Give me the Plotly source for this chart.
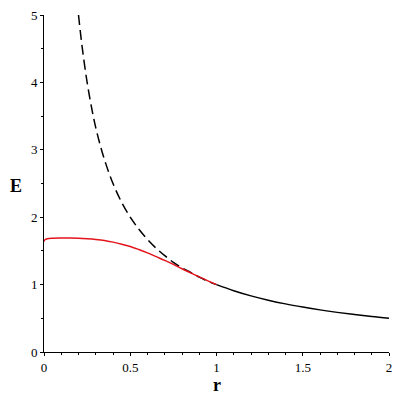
import plotly.graph_objects as go

# Red curve (inside)
r_red = [0.0, 0.005, 0.02, 0.05, 0.1, 0.15, 0.2, 0.25, 0.3, 0.35, 0.4, 0.45, 0.5, 0.55, 0.6, 0.65, 0.7, 0.75, 0.8, 0.85, 0.9, 0.95, 1.0]
E_red = [1.64, 1.665, 1.68, 1.687, 1.69, 1.69, 1.687, 1.68, 1.67, 1.655, 1.63, 1.60, 1.565, 1.52, 1.47, 1.415, 1.36, 1.30, 1.235, 1.175, 1.115, 1.055, 1.0]

# Dashed curve (r < 1)
r_dash = [0.2, 0.22, 0.25, 0.28, 0.3, 0.33, 0.36, 0.4, 0.45, 0.5, 0.55, 0.6, 0.65, 0.7, 0.75, 0.8, 0.85, 0.9, 0.95, 1.0]
E_dash = [5.0, 4.55, 4.0, 3.57, 3.33, 3.03, 2.78, 2.5, 2.22, 2.0, 1.82, 1.67, 1.54, 1.43, 1.33, 1.25, 1.18, 1.11, 1.05, 1.0]

# Solid black curve (r >= 1)
r_out = [1.0, 1.1, 1.2, 1.3, 1.4, 1.5, 1.6, 1.7, 1.8, 1.9, 2.0]
E_out = [1.0, 0.91, 0.833, 0.769, 0.714, 0.667, 0.625, 0.588, 0.556, 0.526, 0.5]

x_ticks = [0, 0.5, 1, 1.5, 2]
x_labels = ["0", "0.5", "1", "1.5", "2"]
y_ticks = [0, 1, 2, 3, 4, 5]
y_labels = ["0", "1", "2", "3", "4", "5"]

font_family = "Liberation Serif, Times New Roman, serif"

fig = go.Figure()
fig.add_trace(go.Scatter(x=r_dash, y=E_dash, mode="lines",
                         line=dict(color="black", width=1.5, dash="10px,5px", shape="spline"),
                         showlegend=False))
fig.add_trace(go.Scatter(x=r_out, y=E_out, mode="lines",
                         line=dict(color="black", width=1.5, shape="spline"),
                         showlegend=False))
fig.add_trace(go.Scatter(x=r_red, y=E_red, mode="lines",
                         line=dict(color="#e3141c", width=1.5, shape="spline"),
                         showlegend=False))

fig.update_layout(
    width=400, height=400,
    margin=dict(l=44, r=8, t=12, b=48),
    paper_bgcolor="white", plot_bgcolor="white",
    font=dict(family=font_family, size=13, color="black"),
    xaxis=dict(range=[0, 2], tickvals=x_ticks, ticktext=x_labels,
               showline=True, linecolor="black", linewidth=1,
               ticks="outside", ticklen=3, tickcolor="black",
               showgrid=False, zeroline=False,
               minor=dict(dtick=0.1, ticks="outside", ticklen=2, tickcolor="black"),
               tickfont=dict(family=font_family, size=13)),
    yaxis=dict(range=[0, 5], tickvals=y_ticks, ticktext=y_labels,
               showline=True, linecolor="black", linewidth=1,
               ticks="outside", ticklen=3, tickcolor="black",
               showgrid=False, zeroline=False,
               minor=dict(dtick=0.5, ticks="outside", ticklen=2, tickcolor="black"),
               tickfont=dict(family=font_family, size=13)),
    annotations=[
        dict(text="<b>r</b>", x=0.5, xref="paper", y=-0.062, yref="paper",
             xanchor="center", yanchor="top", showarrow=False,
             font=dict(family=font_family, size=18)),
        dict(text="<b>E</b>", x=-0.08, xref="paper", y=0.493, yref="paper",
             xanchor="center", yanchor="middle", showarrow=False,
             font=dict(family=font_family, size=18)),
    ],
)

fig.write_html("out.html", config={"displayModeBar": False},
               post_script="document.body.style.margin='0';document.body.style.overflow='hidden';")
